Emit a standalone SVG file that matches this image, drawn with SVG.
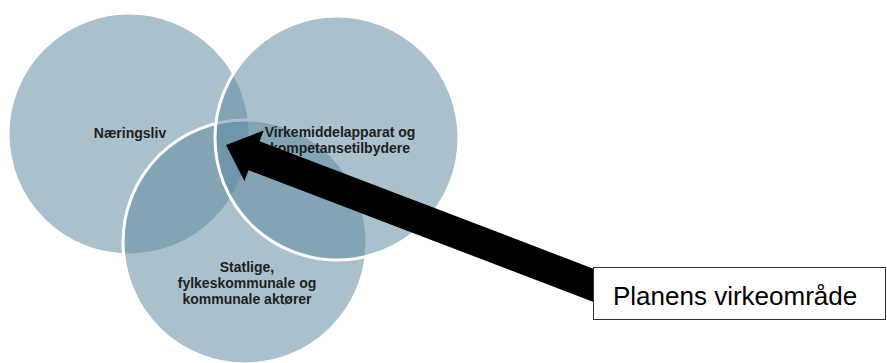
<svg xmlns="http://www.w3.org/2000/svg" width="887" height="363" viewBox="0 0 887 363">
<style>
.c{fill:#5e8aa0;fill-opacity:0.53;stroke:#ffffff;stroke-width:3}
.t{font-family:"Liberation Sans",Arial,sans-serif;font-weight:bold;font-size:14px;fill:#1e1e1e;text-anchor:middle}
.b{font-family:"Liberation Sans",Arial,sans-serif;font-size:26px;fill:#000000}
</style>
<rect width="887" height="363" fill="#ffffff"/>
<g id="naeringsliv">
<circle class="c" cx="129" cy="134" r="121"/>
</g>
<g id="statlige">
<circle class="c" cx="245" cy="242" r="122"/>
</g>
<g id="virkemiddel">
<circle class="c" cx="337" cy="138" r="122"/>
</g>
<g id="labels">
<text class="t" x="130" y="138">Næringsliv</text>
<text class="t" x="340" y="137">Virkemiddelapparat og</text>
<text class="t" x="340" y="153">kompetansetilbydere</text>
<text class="t" x="247" y="272">Statlige,</text>
<text class="t" x="247" y="288">fylkeskommunale og</text>
<text class="t" x="247" y="304">kommunale aktører</text>
</g>
<g id="connectors">
<polygon fill="#000000" transform="translate(226,145) rotate(20.9)" points="0,0 30,-27 30,-15.5 400,-15.5 400,15.5 30,15.5 30,27"/>
</g>
<g id="planens">
<rect x="593.5" y="267.5" width="292" height="52" fill="#ffffff" stroke="#333333" stroke-width="1"/>
<text class="b" x="613" y="305">Planens virkeområde</text>
</g>
</svg>
